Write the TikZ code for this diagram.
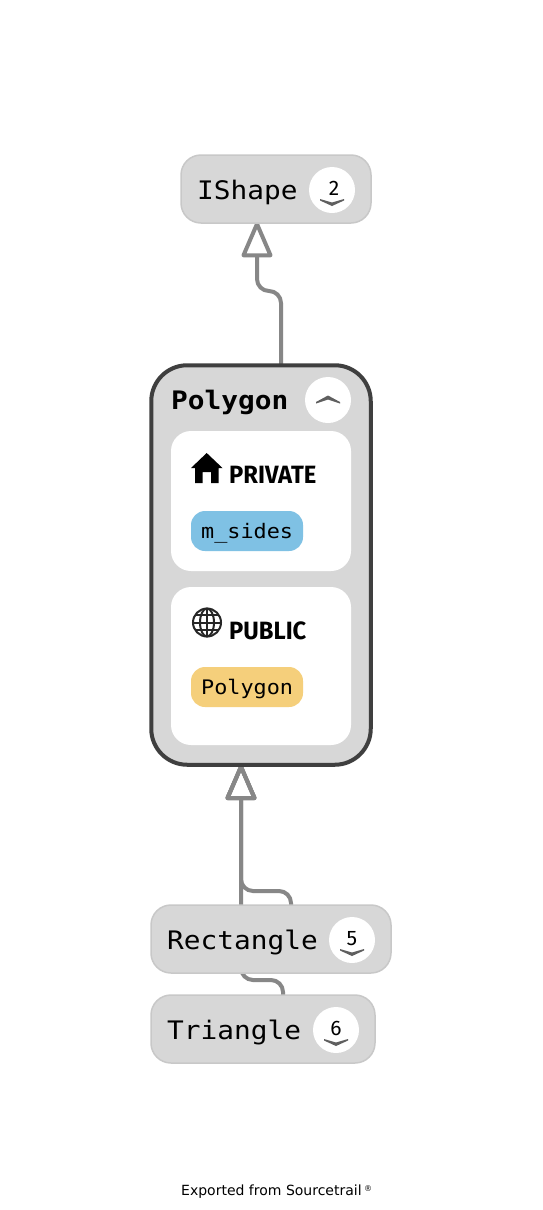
\documentclass[tikz,border=0pt]{standalone}
\usepackage{fontspec}
\setmainfont{DejaVu Sans}
\newfontfamily\codefont[FakeStretch=1.09]{DejaVu Sans Mono}
\newfontfamily\headfont[FakeStretch=0.95]{Fira Sans}
\newfontfamily\countfont{Fira Sans}
\usetikzlibrary{arrows.meta}
\pgfdeclarelayer{bg}
\pgfsetlayers{bg,main}
\definecolor{nodegrey}{HTML}{D7D7D7}
\definecolor{bordergrey}{HTML}{C8C8C8}
\definecolor{edgegrey}{HTML}{878787}
\definecolor{darkborder}{HTML}{3F3F3F}
\definecolor{fieldblue}{HTML}{7FC1E4}
\definecolor{funcorange}{HTML}{F5CF7B}
\definecolor{chevgrey}{HTML}{5F5F5F}
\tikzset{
  box/.style={draw=bordergrey,line width=1.5pt,fill=nodegrey,rounded corners=20pt,outer sep=0pt,inner sep=0pt},
  activebox/.style={draw=darkborder,line width=4pt,fill=nodegrey,rounded corners=36pt,outer sep=0pt,inner sep=0pt},
  panel/.style={fill=white,rounded corners=20pt,outer sep=0pt,inner sep=0pt},
  pill/.style={rounded corners=14pt,minimum width=112pt,minimum height=40pt,outer sep=0pt,inner sep=0pt},
  disc/.style={circle,fill=white,minimum size=46pt,outer sep=0pt,inner sep=0pt},
  title/.style={anchor=base west,inner sep=0pt,font=\codefont\fontsize{25.5}{28}\selectfont},
  boldtitle/.style={anchor=base west,inner sep=0pt,font=\codefont\bfseries\fontsize{25.5}{28}\selectfont},
  member/.style={anchor=base west,inner sep=0pt,font=\codefont\fontsize{20}{22}\selectfont},
  access/.style={anchor=base west,inner sep=0pt,font=\headfont\bfseries\fontsize{25}{25}\selectfont},
  count/.style={inner sep=0pt,font=\countfont\fontsize{21}{21}\selectfont},
  edge/.style={draw=edgegrey,line width=4pt,rounded corners=12pt,
    -{Triangle[open,round,length=38.5pt,width=32pt,line width=4pt]}},
}
\begin{document}
\begin{tikzpicture}[x=1pt,y=-1pt]
\useasboundingbox (0,0) rectangle (542,1210);
\begin{pgfonlayer}{bg}
  \fill[white] (0,0) rectangle (542,1210);
\end{pgfonlayer}

% nodes
\node[box,minimum width=190pt,minimum height=68pt] (ishape) at (276,189) {};
\node[activebox,minimum width=219.5pt,minimum height=399.5pt] (polygon) at (261,565) {};
\node[box,minimum width=240pt,minimum height=68pt] (rectangle) at (271,939) {};
\node[box,minimum width=224pt,minimum height=68pt] (triangle) at (263,1029) {};

\node[title] (ishapetext) at (197,199) {IShape};
\node[boldtitle] (polygontext) at (171,409) {Polygon};
\node[title] (rectangletext) at (167,949) {Rectangle};
\node[title] (triangletext) at (167,1039) {Triangle};

\node[disc] (ishapedisc) at (332,190) {};
\node[disc] (polygondisc) at (328,400) {};
\node[disc] (rectangledisc) at (352,940) {};
\node[disc] (triangledisc) at (336,1030) {};

\node[count] (ishapecount) at (334,188.5) {2};
\node[count] (rectanglecount) at (352,938.5) {5};
\node[count] (trianglecount) at (336,1028.5) {6};

% chevrons
\foreach \cx/\cy in {332/199,352/949,336/1039}{
  \fill[chevgrey] (\cx-12,\cy) -- (\cx,\cy+3.5) -- (\cx+12,\cy) -- (\cx+12,\cy+1.5) -- (\cx,\cy+7) -- (\cx-12,\cy+1.5) -- cycle;
}
\fill[chevgrey] (316,403.5) -- (328,399.5) -- (340,403.5) -- (340,402) -- (328,395.5) -- (316,402) -- cycle;

% panels
\node[panel,minimum width=180pt,minimum height=140pt] (privatepanel) at (261,501) {};
\node[panel,minimum width=180pt,minimum height=158pt] (publicpanel) at (261,666) {};

% house icon
\fill[black] (206.7,453) -- (222.5,468) -- (218.5,468) -- (218.5,483) -- (211,483) -- (211,472) -- (202.5,472) -- (202.5,483) -- (195,483) -- (195,468) -- (191,468) -- cycle;
% globe icon
\begin{scope}[draw=black!85,line width=2pt]
  \draw (207,622.5) circle (14);
  \draw (207,622.5) ellipse (7 and 14);
  \draw (207,608) -- (207,637);
  \draw (192.5,622.5) -- (221.5,622.5);
  \draw (195,615) -- (219,615);
  \draw (195,630) -- (219,630);
\end{scope}

\node[access] (privatetext) at (229,483) {PRIVATE};
\node[access] (publictext) at (229,639) {PUBLIC};

\node[pill,fill=fieldblue] (sides) at (247,531) {};
\node[pill,fill=funcorange] (ctor) at (247,687) {};
\node[member] (sidestext) at (201,538.5) {m\_sides};
\node[member] (ctortext) at (201,694.5) {Polygon};

\node[anchor=base west,inner sep=0pt,font=\fontsize{14}{14}\selectfont] (export) at (181,1195) {Exported from Sourcetrail};
\node[anchor=base west,inner sep=0pt,font=\fontsize{8}{8}\selectfont] (reg) at (364,1191) {®};

% connectors
\coordinate (bendup) at (269,291);
\coordinate (bendrect) at (266,891);
\coordinate (bendtri) at (262,980);
\coordinate (ishapein) at ([xshift=-19pt]ishape.south);
\coordinate (polygonout) at ([xshift=20pt]polygon.north);
\coordinate (polygonin) at ([xshift=-20pt]polygon.south);
\coordinate (rectout) at ([xshift=20pt]rectangle.north);
\coordinate (triout) at ([xshift=20pt]triangle.north);
\begin{pgfonlayer}{bg}
  \draw[edge,shorten >=-1pt] (polygonout) -- (polygonout |- bendup) -- (ishapein |- bendup) -- (ishapein);
  \draw[edge] ([xshift=-30pt]rectangle.north) -- (polygonin);
  \draw[edge] (rectout) -- (rectout |- bendrect) -- (polygonin |- bendrect) -- (polygonin);
  \draw[edge] (triout) -- (triout |- bendtri) -- (polygonin |- bendtri) -- (polygonin);
\end{pgfonlayer}
\end{tikzpicture}
\end{document}
